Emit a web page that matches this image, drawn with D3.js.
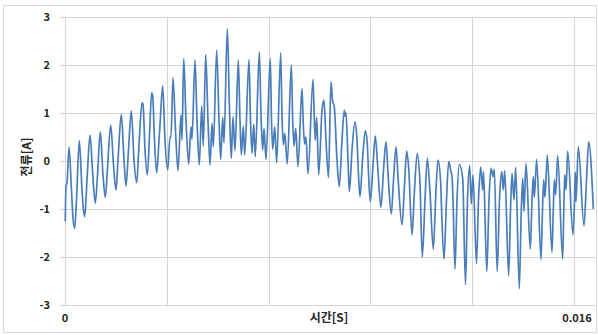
<!DOCTYPE html>
<html>
<head>
<meta charset="utf-8">
<script src="https://cdn.jsdelivr.net/npm/d3@7"></script>
<style>
  body { margin: 0; background: #fff; }
  svg { display: block; }
  .tick-label { font-family: "Noto Sans CJK KR", "DejaVu Sans", sans-serif; font-weight: 700; font-size: 11px; fill: #262626; }
  .axis-title { font-family: "Noto Sans CJK KR", sans-serif; font-weight: 700; font-size: 12px; fill: #262626; }
</style>
</head>
<body>
<svg id="chart" width="598" height="335"></svg>
<script>
// time in milliseconds, current in amperes
const timeMs = [
  0.009, 0.031, 0.063, 0.126, 0.204, 0.251, 0.305, 0.361, 0.450, 0.534,
  0.572, 0.619, 0.692, 0.786, 0.864, 0.952, 1.022, 1.110, 1.194, 1.267,
  1.336, 1.437, 1.525, 1.603, 1.666, 1.770, 1.855, 1.917, 1.996, 2.084,
  2.169, 2.254, 2.326, 2.420, 2.452, 2.515, 2.587, 2.656, 2.725, 2.757,
  2.813, 2.883, 2.964, 2.986, 3.071, 3.143, 3.228, 3.301, 3.332, 3.395,
  3.473, 3.552, 3.646, 3.678, 3.731, 3.804, 3.888, 3.961, 3.992, 4.086,
  4.149, 4.222, 4.297, 4.347, 4.423, 4.495, 4.558, 4.621, 4.662, 4.768,
  4.841, 4.894, 4.957, 4.998, 5.102, 5.171, 5.227, 5.281, 5.344, 5.448,
  5.501, 5.542, 5.605, 5.649, 5.784, 5.831, 5.878, 5.932, 5.982, 6.108,
  6.161, 6.214, 6.255, 6.318, 6.453, 6.491, 6.529, 6.592, 6.655, 6.780,
  6.821, 6.862, 6.906, 6.988, 7.114, 7.157, 7.198, 7.252, 7.324, 7.450,
  7.491, 7.535, 7.576, 7.638, 7.796, 7.833, 7.868, 7.912, 7.975, 8.079,
  8.141, 8.204, 8.283, 8.361, 8.409, 8.465, 8.550, 8.622, 8.707, 8.780,
  8.802, 8.833, 8.896, 8.937, 9.022, 9.116, 9.179, 9.226, 9.273, 9.352,
  9.440, 9.502, 9.550, 9.597, 9.682, 9.754, 9.829, 9.933, 10.012, 10.090,
  10.153, 10.257, 10.326, 10.405, 10.468, 10.593, 10.672, 10.741, 10.804, 10.908,
  10.986, 11.071, 11.159, 11.231, 11.316, 11.389, 11.473, 11.577, 11.662, 11.725,
  11.810, 11.829, 11.913, 11.992, 12.061, 12.134, 12.165, 12.196, 12.259, 12.322,
  12.395, 12.501, 12.589, 12.652, 12.721, 12.772, 12.825, 12.935, 12.998, 13.067,
  13.130, 13.155, 13.259, 13.328, 13.391, 13.454, 13.495, 13.586, 13.658, 13.727,
  13.778, 13.822, 13.947, 14.004, 14.051, 14.114, 14.167, 14.280, 14.343, 14.387,
  14.428, 14.491, 14.626, 14.680, 14.721, 14.752, 14.827, 14.963, 15.010, 15.047,
  15.088, 15.161, 15.308, 15.349, 15.381, 15.425, 15.487, 15.645, 15.679, 15.708,
  15.748, 15.802, 15.968, 16.016, 16.041, 16.063, 16.135, 16.314, 16.393, 16.462,
  16.607
];
const currentA = [
  -1.262, -0.520, -0.457, 0.291, -0.603, -1.185, -1.403, -0.811, 0.426, -0.603,
  -0.956, -1.158, -0.395, 0.541, -0.187, -0.879, -0.291, 0.609, -0.291, -0.755,
  -0.146, 0.748, -0.083, -0.603, 0.021, 0.971, 0.021, -0.520, 0.229, 1.046,
  0.021, -0.451, 0.333, 1.212, 1.185, 0.229, -0.291, 0.541, 1.420, 1.351,
  0.437, -0.243, 0.541, 0.748, 1.566, 0.437, -0.187, 0.505, 0.499, 1.740,
  0.644, -0.202, 0.956, 0.437, 2.135, 0.852, -0.062, 0.713, 0.457, 2.100,
  0.852, -0.083, 1.143, 0.312, 2.218, 0.852, -0.083, 0.784, 0.297, 2.308,
  0.852, 0.035, 0.909, 0.380, 2.759, 1.060, 0.056, 0.921, 0.214, 2.100,
  0.852, 0.125, 0.728, 0.125, 2.114, 0.852, 0.160, 0.769, 0.089, 2.272,
  0.956, 0.229, 0.680, 0.035, 2.135, 0.852, 0.243, 0.713, -0.035, 2.252,
  0.956, 0.333, 0.576, -0.062, 1.996, 0.852, 0.312, 0.680, -0.119, 1.511,
  0.748, 0.353, 0.505, -0.270, 1.699, 0.956, 0.437, 0.909, -0.291, 1.060,
  1.268, 0.437, -0.343, 1.649, 1.268, 1.129, 0.021, -0.534, 0.437, 1.060,
  0.936, 1.004, 0.021, -0.638, 0.229, 0.817, 0.437, -0.291, -0.742, 0.021,
  0.630, 0.368, -0.395, -0.846, -0.083, 0.520, -0.119, -0.963, -0.187, 0.401,
  -0.256, -1.102, -0.395, 0.297, -0.326, -1.331, -0.499, 0.208, -0.152, -1.538,
  -0.603, 0.156, -0.464, -2.002, -0.811, 0.056, -0.638, -1.836, -0.603, 0.021,
  -0.464, -0.846, -2.044, -0.811, -0.015, -0.229, -0.326, -0.811, -2.252, -0.811,
  -0.073, -0.360, -2.578, -0.811, -0.094, -0.894, -0.291, -2.141, -0.811, -0.125,
  -0.603, -0.222, -2.301, -0.811, -0.146, -0.326, -0.173, -2.301, -0.811, -0.222,
  -0.603, -0.202, -2.391, -1.019, -0.256, -0.811, -0.131, -2.661, -1.019, -0.360,
  -1.054, -0.048, -1.836, -0.811, -0.326, -0.755, 0.035, -2.058, -1.019, -0.395,
  -0.755, 0.125, -1.906, -1.019, -0.395, -0.707, 0.110, -2.044, -1.019, -0.291,
  -0.603, 0.208, -1.538, -0.811, -0.229, -0.846, 0.297, -1.351, -0.395, 0.401,
  -0.998
];
const yTicks = [-3, -2, -1, 0, 1, 2, 3];
const xGridTicks = [0, 0.0032, 0.0064, 0.0096, 0.0128, 0.016];
const xLabelTicks = [0, 0.016];
const xTitle = '시간[S]';
const yTitle = '전류[A]';

const svg = d3.select('#chart');
const margin = {top: 17, right: 4, bottom: 30, left: 65};
const width = 598;
const height = 335;
const plotW = 509 / 0.016 * 0.01666;

const x = d3.scaleLinear().domain([0, 0.016]).range([margin.left, margin.left + 509]);
const y = d3.scaleLinear().domain([-3, 3]).range([305, 17]);

// outer chart frame
svg.append('rect')
  .attr('x', 3.5).attr('y', 5.5)
  .attr('width', 593).attr('height', 327)
  .attr('fill', 'none')
  .attr('stroke', '#d9d9d9');

const grid = svg.append('g');
grid.selectAll('.hgrid')
  .data(yTicks)
  .join('line')
  .attr('class', 'hgrid')
  .attr('x1', margin.left - 5)
  .attr('x2', margin.left + plotW)
  .attr('y1', (d) => Math.round(y(d)) + 0.5)
  .attr('y2', (d) => Math.round(y(d)) + 0.5)
  .attr('stroke', '#d4d4d4')
  .attr('stroke-width', 1);

grid.selectAll('.vgrid')
  .data(xGridTicks)
  .join('line')
  .attr('class', 'vgrid')
  .attr('x1', (d) => Math.round(x(d)) + 0.5)
  .attr('x2', (d) => Math.round(x(d)) + 0.5)
  .attr('y1', y(3))
  .attr('y2', y(-3))
  .attr('stroke', '#d4d4d4')
  .attr('stroke-width', 1);

// y tick labels
svg.append('g')
  .selectAll('text')
  .data(yTicks)
  .join('text')
  .attr('class', 'tick-label')
  .attr('x', 50)
  .attr('y', (d) => y(d))
  .attr('dy', '0.36em')
  .attr('text-anchor', 'end')
  .text((d) => d);

// x tick labels
svg.append('g')
  .selectAll('text')
  .data(xLabelTicks)
  .join('text')
  .attr('class', 'tick-label')
  .attr('x', (d) => (d === 0 ? x(d) : x(d) + 3))
  .attr('y', 322)
  .attr('text-anchor', 'middle')
  .text((d) => (d === 0 ? '0' : d3.format('.3f')(d)));

svg.append('text')
  .attr('class', 'axis-title')
  .attr('x', 329)
  .attr('y', 322)
  .attr('text-anchor', 'middle')
  .text(xTitle);

svg.append('text')
  .attr('class', 'axis-title')
  .attr('transform', 'translate(31, 157) rotate(-90)')
  .attr('text-anchor', 'middle')
  .text(yTitle);

const points = timeMs.map((t, i) => [t / 1000, currentA[i]]);
const line = d3.line()
  .x((d) => x(d[0]))
  .y((d) => y(d[1]))
  .curve(d3.curveMonotoneX);

svg.append('path')
  .datum(points)
  .attr('fill', 'none')
  .attr('stroke', '#4a7ebb')
  .attr('stroke-width', 1.7)
  .attr('stroke-linejoin', 'round')
  .attr('d', line);
</script>
</body>
</html>
